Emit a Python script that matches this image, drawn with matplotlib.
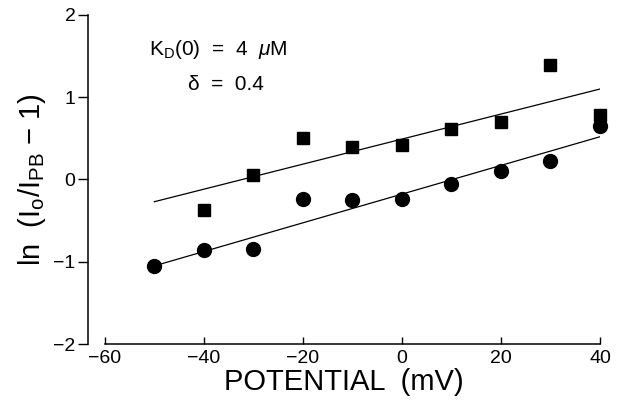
import matplotlib
matplotlib.use("Agg")
import matplotlib.pyplot as plt

plt.rcParams["font.family"] = ["Liberation Sans", "DejaVu Sans"]
plt.rcParams["mathtext.fontset"] = "custom"
plt.rcParams["mathtext.rm"] = "Liberation Sans"
plt.rcParams["mathtext.it"] = "Liberation Sans:italic"

# membrane potential (mV)
sq_x = [-40, -30, -20, -10, 0, 10, 20, 30, 40]
sq_y = [-0.37, 0.05, 0.50, 0.40, 0.42, 0.61, 0.70, 1.39, 0.78]

ci_x = [-50, -40, -30, -20, -10, 0, 10, 20, 30, 40]
ci_y = [-1.05, -0.86, -0.84, -0.24, -0.25, -0.24, -0.05, 0.10, 0.22, 0.65]

# fitted lines, end points
fit_x = [-50, 40]
sq_fit = [-0.27, 1.10]
ci_fit = [-1.05, 0.52]

xticks = [-60, -40, -20, 0, 20, 40]
yticks = [-2, -1, 0, 1, 2]

fig = plt.figure(figsize=(6.22, 4.04), dpi=100)
ax = fig.add_axes([0.1415, 0.1485, 0.8231, 0.8144])

ax.plot(fit_x, sq_fit, color="black", lw=0.9)
ax.plot(fit_x, ci_fit, color="black", lw=0.9)
ax.plot(sq_x, sq_y, "s", color="black", ms=8, clip_on=False)
ax.plot(ci_x, ci_y, "o", color="black", ms=10, clip_on=False)

ax.set_xlim(-63.4, 40)
ax.set_ylim(-2, 2)
ax.set_xticks(xticks)
ax.set_yticks(yticks)
ax.set_xticklabels([str(t).replace("-", "\u2212") for t in xticks])
ax.set_yticklabels([str(t).replace("-", "\u2212") for t in yticks])

for s in ["top", "right"]:
    ax.spines[s].set_visible(False)
ax.spines["left"].set_linewidth(1.1)
ax.spines["bottom"].set_linewidth(1.1)
ax.spines["bottom"].set_bounds(-60, 40)

ax.tick_params(axis="y", direction="out", length=7, width=1.0, labelsize=14, pad=2)
ax.tick_params(axis="x", direction="in", length=5, width=1.0, labelsize=14, pad=4)

ax.set_xlabel("POTENTIAL  (mV)", fontsize=21, labelpad=1)
ax.set_ylabel(r"ln  (I$_\mathregular{o}$/I$_\mathregular{PB}$ $-$ 1)", fontsize=21, labelpad=4)

ax.text(-51, 1.58, r"K$_\mathregular{D}$(0)  =  4  $\mu$M", fontsize=15, ha="left", va="center")
ax.text(-35.5, 1.16, "\u03b4  =  0.4", fontsize=15, ha="center", va="center")

fig.savefig("out.png", dpi=100)
